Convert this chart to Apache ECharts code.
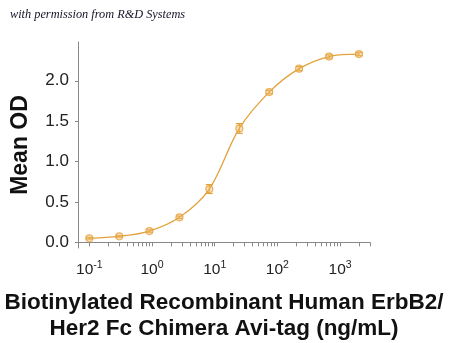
<!DOCTYPE html>
<html>
<head>
<meta charset="utf-8">
<script src="https://cdn.jsdelivr.net/npm/echarts@6/dist/echarts.min.js"></script>
<style>
html,body{margin:0;padding:0;background:#fff;}
#c{width:450px;height:343px;}
</style>
</head>
<body>
<div id="c"></div>
<script>
// Data (3-fold dilution series)
var concentrations = [0.1, 0.3, 0.91, 2.74, 8.2, 24.7, 74, 222, 667, 2000];
var meanOD = [0.05, 0.074, 0.14, 0.31, 0.66, 1.41, 1.86, 2.15, 2.30, 2.33];
var errOD = [0.01, 0.01, 0.015, 0.015, 0.055, 0.06, 0.02, 0.025, 0.02, 0.02];
var yTicks = [0, 0.5, 1.0, 1.5, 2.0];
var xMajorTicks = [0.1, 1, 10, 100, 1000];
var xExponents = ['-1', '0', '1', '2', '3'];
var xMinorMultipliers = [1, 2, 3, 4, 5, 6, 7, 8, 9];

var xTickValues = [];
xMajorTicks.forEach(function (d) {
  xMinorMultipliers.forEach(function (m) {
    var v = +(d * m).toPrecision(3);
    if (v <= 3000) xTickValues.push(v);
  });
});

var ORANGE = '#E3A13B';
var chart = echarts.init(document.getElementById('c'), null, {renderer: 'canvas'});

var pointData = concentrations.map(function (c, i) { return [c, meanOD[i]]; });
var errData = concentrations.map(function (c, i) { return [c, meanOD[i] - errOD[i], meanOD[i] + errOD[i]]; });

chart.setOption({
  animation: false,
  backgroundColor: '#fff',
  graphic: [{
    type: 'text', left: 10, top: 9,
    style: {text: 'with permission from R&D Systems', font: 'italic 12.3px "Liberation Serif"', fill: '#141428'}
  }],
  grid: {left: 78, right: 80, top: 42, bottom: 95, outerBoundsMode: 'none', containLabel: false},
  xAxis: {
    type: 'log',
    logBase: 10,
    min: 0.066,
    max: 3000,
    name: 'Biotinylated Recombinant Human ErbB2/\nHer2 Fc Chimera Avi-tag (ng/mL)',
    nameLocation: 'middle',
    nameGap: 42,
    nameTextStyle: {fontFamily: 'Liberation Sans', fontWeight: 'bold', fontSize: 22.5, color: '#111', lineHeight: 26, padding: [0, 0, 0, 0]},
    axisLine: {lineStyle: {color: '#888', width: 1}},
    axisTick: {show: true, length: 4, inside: false, customValues: xTickValues, lineStyle: {color: '#888'}},
    splitLine: {show: false},
    axisLabel: {
      customValues: xMajorTicks,
      margin: 12,
      formatter: function (v) {
        var i = xMajorTicks.indexOf(v);
        if (i < 0) { for (var k = 0; k < xMajorTicks.length; k++) if (Math.abs(xMajorTicks[k] - v) / v < 1e-6) i = k; }
        return '{a|10}{b|' + (i >= 0 ? xExponents[i] : '') + '}';
      },
      rich: {
        a: {fontFamily: 'Liberation Sans', fontSize: 15.5, color: '#222'},
        b: {fontFamily: 'Liberation Sans', fontSize: 10.5, color: '#222', padding: [0, 0, 9, 0]}
      }
    }
  },
  yAxis: {
    type: 'value',
    min: -0.07,
    max: 2.48,
    name: 'Mean OD',
    nameLocation: 'middle',
    nameGap: 46,
    nameTextStyle: {fontFamily: 'Liberation Sans', fontWeight: 'bold', fontSize: 23, color: '#111'},
    axisLine: {show: true, lineStyle: {color: '#888', width: 1}},
    axisTick: {show: true, length: 3, customValues: yTicks, lineStyle: {color: '#888'}},
    splitLine: {show: false},
    axisLabel: {
      customValues: yTicks,
      margin: 9,
      fontFamily: 'Liberation Sans', fontSize: 17, color: '#222',
      formatter: function (v) { return v.toFixed(1); }
    }
  },
  series: [
    {
      type: 'line',
      data: pointData,
      smooth: 0.35,
      showSymbol: false,
      lineStyle: {color: ORANGE, width: 1.3},
      z: 2
    },
    {
      type: 'custom',
      data: errData,
      z: 3,
      renderItem: function (params, api) {
        var x = api.value(0);
        var lo = api.coord([x, api.value(1)]);
        var hi = api.coord([x, api.value(2)]);
        var w = 3.5;
        var st = {stroke: ORANGE, lineWidth: 1.2};
        return {
          type: 'group',
          children: [
            {type: 'line', shape: {x1: lo[0], y1: lo[1], x2: hi[0], y2: hi[1]}, style: st},
            {type: 'line', shape: {x1: lo[0] - w, y1: lo[1], x2: lo[0] + w, y2: lo[1]}, style: st},
            {type: 'line', shape: {x1: hi[0] - w, y1: hi[1], x2: hi[0] + w, y2: hi[1]}, style: st}
          ]
        };
      }
    },
    {
      type: 'scatter',
      data: pointData,
      symbol: 'circle',
      symbolSize: 7,
      itemStyle: {color: 'rgba(240,190,110,0.55)', borderColor: ORANGE, borderWidth: 1.2},
      z: 4
    }
  ]
});
</script>
</body>
</html>
